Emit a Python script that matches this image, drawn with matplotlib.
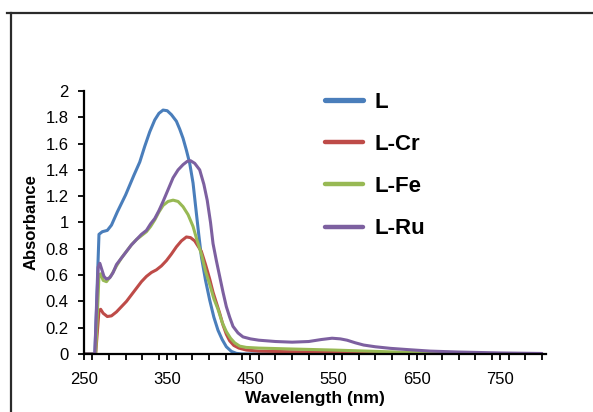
import matplotlib
matplotlib.use("Agg")
import matplotlib.pyplot as plt
from matplotlib.lines import Line2D
from matplotlib.ticker import MultipleLocator, FixedLocator

plt.rcParams["font.family"] = ["Liberation Sans", "DejaVu Sans"]

# spectra (wavelength nm, absorbance)
wl_L = [250, 263, 268, 272, 278, 283, 290, 300, 310, 317, 323, 329, 335, 340, 345,
        350, 355, 361, 365, 369, 373, 377, 381, 385, 388, 391, 396, 401, 406, 411,
        416, 421, 427, 433, 440, 500, 600, 700, 800]
abs_L = [0, 0, 0.91, 0.93, 0.94, 0.98, 1.08, 1.21, 1.36, 1.46, 1.58, 1.69, 1.78, 1.83, 1.855,
         1.85, 1.82, 1.77, 1.71, 1.64, 1.55, 1.45, 1.30, 1.07, 0.90, 0.74, 0.56, 0.41, 0.28, 0.18,
         0.11, 0.055, 0.02, 0.005, 0, 0, 0, 0, 0]

wl_Cr = [250, 264, 268, 270, 273, 278, 283, 289, 295, 301, 307, 313, 319, 325, 331,
         337, 343, 349, 355, 361, 367, 373, 378, 383, 387, 391, 396, 401, 405, 409,
         413, 417, 421, 425, 430, 436, 445, 460, 500, 550, 620, 700, 800]
abs_Cr = [0, 0, 0.33, 0.34, 0.31, 0.285, 0.29, 0.32, 0.36, 0.40, 0.45, 0.50, 0.55, 0.59, 0.62,
          0.64, 0.67, 0.71, 0.76, 0.815, 0.86, 0.89, 0.885, 0.86, 0.82, 0.78, 0.68, 0.57, 0.47, 0.39,
          0.31, 0.22, 0.15, 0.10, 0.065, 0.045, 0.03, 0.022, 0.017, 0.012, 0.008, 0.004, 0.001]

wl_Fe = [250, 264, 268, 270, 273, 277, 283, 289, 295, 301, 307, 313, 319, 325, 330,
         335, 340, 345, 351, 357, 363, 369, 375, 381, 386, 391, 396, 401, 406, 411,
         416, 421, 426, 431, 437, 445, 460, 500, 550, 600, 650, 700, 800]
abs_Fe = [0, 0, 0.60, 0.61, 0.56, 0.55, 0.60, 0.67, 0.73, 0.78, 0.83, 0.87, 0.90, 0.93, 0.97,
          1.02, 1.08, 1.13, 1.16, 1.17, 1.16, 1.12, 1.06, 0.97, 0.86, 0.76, 0.63, 0.53, 0.42, 0.34,
          0.24, 0.17, 0.12, 0.085, 0.06, 0.05, 0.045, 0.038, 0.03, 0.02, 0.01, 0.005, 0.002]

wl_Ru = [250, 263, 267, 269, 271, 274, 277, 281, 285, 289, 295, 301, 307, 313, 319,
         325, 330, 335, 340, 345, 351, 357, 363, 369, 374, 378, 383, 389, 394, 398,
         402, 405, 409, 413, 417, 421, 425, 429, 435, 441, 450, 460, 480, 500, 520,
         535, 548, 558, 566, 576, 586, 600, 618, 640, 666, 700, 750, 800]
abs_Ru = [0, 0, 0.66, 0.69, 0.65, 0.59, 0.57, 0.58, 0.62, 0.68, 0.73, 0.78, 0.83, 0.87, 0.91,
          0.94, 0.99, 1.03, 1.09, 1.16, 1.25, 1.34, 1.40, 1.44, 1.465, 1.47, 1.45, 1.40, 1.29, 1.17,
          1.00, 0.84, 0.71, 0.59, 0.47, 0.36, 0.28, 0.21, 0.16, 0.13, 0.115, 0.105, 0.095, 0.09, 0.095,
          0.11, 0.12, 0.115, 0.105, 0.085, 0.068, 0.055, 0.043, 0.033, 0.022, 0.015, 0.008, 0.004]

series = [
    ("L", wl_L, abs_L, "#4A7EBB"),
    ("L-Cr", wl_Cr, abs_Cr, "#BE4B48"),
    ("L-Fe", wl_Fe, abs_Fe, "#98B954"),
    ("L-Ru", wl_Ru, abs_Ru, "#7D60A0"),
]

fig = plt.figure(figsize=(5.93, 4.12), dpi=100)
ax = fig.add_axes([84 / 593, 58 / 412, 462 / 593, 263 / 412])

for name, x, y, c in series:
    ax.plot(x, y, color=c, lw=2.2, label=name, solid_capstyle="round",
            solid_joinstyle="round")

ax.set_xlim(250, 805)
ax.set_ylim(0, 2)
ax.xaxis.set_major_locator(FixedLocator([250, 350, 450, 550, 650, 750]))
ax.xaxis.set_minor_locator(MultipleLocator(20))
ax.yaxis.set_major_locator(MultipleLocator(0.2))
ax.set_yticklabels([("%g" % v) for v in ax.get_yticks()])

for s in ["top", "right"]:
    ax.spines[s].set_visible(False)
for s in ["left", "bottom"]:
    ax.spines[s].set_linewidth(1.6)
    ax.spines[s].set_color("black")

ax.tick_params(axis="both", which="both", direction="out", length=4, width=1.3,
               labelsize=12, colors="black")
ax.tick_params(axis="x", pad=9)
ax.tick_params(axis="y", pad=7)

ax.set_xlabel("Wavelength (nm)", fontsize=12.5, fontweight="bold", labelpad=3)
ax.set_ylabel("Absorbance", fontsize=12, fontweight="bold", labelpad=5)

leg = ax.legend(loc="upper left", bbox_to_anchor=(325 / 593, 1 - 92 / 412),
                bbox_transform=fig.transFigure, frameon=False,
                prop={"weight": "bold", "size": 16}, handlelength=1.7,
                handletextpad=0.55, labelspacing=0.95, borderpad=0, borderaxespad=0)
for ln in leg.get_lines():
    ln.set_linewidth(3.2)
leg.get_lines()[0].set_linewidth(3.8)

# outer frame lines (top and left edge of the original picture)
fig.add_artist(Line2D([7 / 593, 1], [1 - 13 / 412, 1 - 13 / 412], color="#2b2b2b", lw=1.6))
fig.add_artist(Line2D([11 / 593, 11 / 593], [0, 1 - 13 / 412], color="#2b2b2b", lw=1.6))

fig.savefig("out.png", dpi=100)
